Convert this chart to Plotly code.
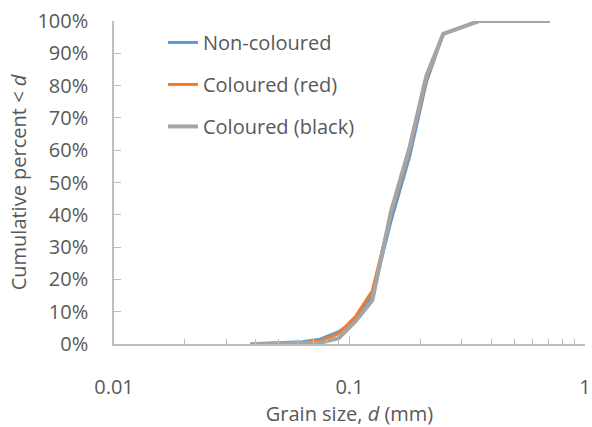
import plotly.graph_objects as go

grain_size_mm = [0.038, 0.045, 0.053, 0.063, 0.075, 0.09, 0.106, 0.125, 0.15, 0.18, 0.212, 0.25, 0.355, 0.71]
non_coloured = [0, 0.2, 0.4, 0.7, 1.5, 3.8, 7.5, 15, 38, 58, 81, 96, 100, 100]
coloured_red = [0, 0.1, 0.2, 0.4, 1.0, 3.2, 8.5, 16.5, 40, 60, 82, 96, 100, 100]
coloured_black = [0, 0.1, 0.1, 0.2, 0.4, 1.8, 7.0, 13.5, 41, 61, 83, 96, 100, 100]

x_tick_vals = [0.01, 0.1, 1]
x_tick_text = ["0.01", "0.1", "1"]
x_minor_vals = [m * d for d in (0.01, 0.1) for m in range(2, 10)]

series = [
    ("Non-coloured", non_coloured, "#5B9BD5", 3),
    ("Coloured (red)", coloured_red, "#ED7D31", 3),
    ("Coloured (black)", coloured_black, "#A5A5A5", 4),
]

FONT = "Open Sans"
TXT = "#595959"
AX = "#BFBFBF"

fig = go.Figure()
for i, (name, vals, col, w) in enumerate(series):
    fig.add_trace(go.Scatter(x=grain_size_mm, y=vals, mode="lines", name=name,
                             line=dict(color=col, width=w), legendgroup=f"g{i}"))

fig.update_layout(
    width=592, height=427,
    margin=dict(l=114, r=7, t=21, b=83),
    paper_bgcolor="white", plot_bgcolor="white",
    font=dict(family=FONT, size=20, color=TXT),
    showlegend=True,
    legend=dict(x=0.104, y=0.994, xanchor="left", yanchor="top",
                bgcolor="rgba(0,0,0,0)", font=dict(size=20, color=TXT),
                tracegroupgap=13, traceorder="grouped"),
)
fig.update_xaxes(
    type="log", range=[-2, 0], automargin=False,
    tickvals=x_tick_vals, ticktext=x_tick_text,
    ticks="inside", ticklen=8, tickcolor=AX, tickwidth=1,
    showline=True, linecolor=AX, linewidth=1.5,
    showgrid=False, zeroline=False,
    ticklabelstandoff=24, ticklabeloverflow="allow",
    minor=dict(tickvals=x_minor_vals, ticks="inside", ticklen=5, tickcolor=AX, showgrid=False),
    title=dict(text="Grain size, <i>d</i> (mm)", font=dict(size=20, color=TXT), standoff=7),
)
fig.update_yaxes(
    range=[0, 100], dtick=10, ticksuffix="%", automargin=False,
    ticks="inside", ticklen=7, tickcolor=AX, tickwidth=1,
    showline=True, linecolor=AX, linewidth=1.5,
    showgrid=False, zeroline=False,
    ticklabelstandoff=20,
    title=dict(text="Cumulative percent &lt; <i>d</i>", font=dict(size=20, color=TXT), standoff=5),
)

fig.write_html("out.html", config={"displayModeBar": False},
               post_script="document.body.style.margin='0';")
